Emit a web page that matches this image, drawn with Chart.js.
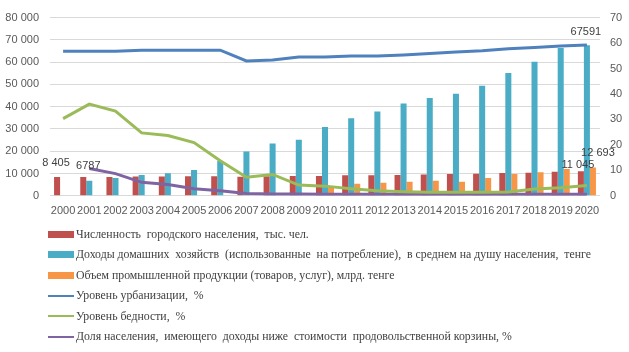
<!DOCTYPE html>
<html>
<head>
<meta charset="utf-8">
<script src="https://cdn.jsdelivr.net/npm/chart.js@4.4.1/dist/chart.umd.min.js"></script>
<style>
  body { margin: 0; background: #fff; width: 629px; height: 352px; overflow: hidden; position: relative; }
  #chart { position: absolute; left: 0; top: 0; }
  #legend { position: absolute; left: 48px; top: 224px; margin: 0; padding: 0; list-style: none;
    font-family: "Liberation Serif", "Times New Roman", "DejaVu Serif", serif; font-size: 11.8px; color: #404040; }
  #legend li { height: 20.5px; display: flex; align-items: center; white-space: pre; }
  #legend .mark { width: 26px; margin-right: 2px; flex: none; }
</style>
</head>
<body>
<canvas id="chart" width="629" height="234"></canvas>
<ul id="legend"></ul>
<script>
const years = ['2000', '2001', '2002', '2003', '2004', '2005', '2006', '2007', '2008', '2009', '2010',
  '2011', '2012', '2013', '2014', '2015', '2016', '2017', '2018', '2019', '2020'];

// left axis (bars)
const urbanPopulation = [8405, 8390, 8410, 8650, 8700, 8750, 8800, 8500, 8800, 8850, 8900,
  9200, 9250, 9350, 9600, 9800, 9900, 10200, 10400, 10800, 11045];
const householdIncome = [null, 6787, 8040, 9360, 10110, 11560, 15600, 19910, 23430, 25190, 30900,
  34860, 37800, 41450, 43960, 45850, 49360, 55080, 60220, 66400, 67591];
const industrialOutput = [null, null, null, null, null, null, null, null, null, null, 3650,
  5400, 5850, 6290, 6730, 6290, 8040, 9800, 10550, 12000, 12693];

// right axis (lines, %)
const urbanization = [56.8, 56.8, 56.8, 57.2, 57.2, 57.2, 57.2, 53.0, 53.3, 54.5, 54.5,
  54.9, 54.9, 55.3, 55.9, 56.5, 57.0, 57.8, 58.3, 58.8, 59.2];
const poverty = [30.3, 36.0, 33.3, 24.7, 23.7, 20.9, 13.8, 7.3, 8.4, 4.2, 3.8,
  2.8, 2.0, 1.6, 1.4, 1.4, 1.4, 1.5, 2.7, 3.2, 4.0];
const belowFoodBasket = [null, 10.7, 8.7, 5.3, 4.4, 2.8, 2.0, 0.9, 0.7, 0.7, 0.6,
  0.6, 0.6, 0.6, 0.6, 0.6, 0.6, 0.6, 0.6, 0.6, 0.6];

const leftTicks = [0, 10000, 20000, 30000, 40000, 50000, 60000, 70000, 80000];
const rightTicks = [0, 10, 20, 30, 40, 50, 60, 70];

function spaced(v) {
  return String(v).replace(/\B(?=(\d{3})+(?!\d))/g, ' ');
}

// which values get a label above the bar (the picture mixes spaced and plain numbers)
const valueLabels = [
  { dataset: 0, index: 0, spaced: true, dx: -1, dy: -14 },
  { dataset: 1, index: 1, spaced: false, dx: -1, dy: -15 },
  { dataset: 1, index: 20, spaced: false, dx: -1, dy: -13 },
  { dataset: 0, index: 20, spaced: true, dx: -3, dy: -6 },
  { dataset: 2, index: 20, spaced: true, dx: 5, dy: -15 }
];

const labelPlugin = {
  id: 'valueLabels',
  afterDatasetsDraw(chart) {
    const ctx = chart.ctx;
    ctx.save();
    ctx.font = '11px "Liberation Sans"';
    ctx.fillStyle = '#404040';
    ctx.textAlign = 'center';
    ctx.textBaseline = 'middle';
    valueLabels.forEach(l => {
      const el = chart.getDatasetMeta(l.dataset).data[l.index];
      const v = chart.data.datasets[l.dataset].data[l.index];
      const text = l.spaced ? spaced(v) : String(v);
      ctx.fillText(text, el.x + l.dx, el.y + l.dy);
    });
    ctx.restore();
  }
};

const tickFont = { family: 'Liberation Sans', size: 11 };

const chart = new Chart(document.getElementById('chart').getContext('2d'), {
  data: {
    labels: years,
    datasets: [
      { type: 'bar', label: 'Численность  городского населения,  тыс. чел.', data: urbanPopulation,
        backgroundColor: '#C0504D', yAxisID: 'y', order: 1, categoryPercentage: 0.69, barPercentage: 1 },
      { type: 'bar', label: 'Доходы домашних  хозяйств  (использованные  на потребление),  в среднем на душу населения,  тенге', data: householdIncome,
        backgroundColor: '#4BACC6', yAxisID: 'y', order: 1, categoryPercentage: 0.69, barPercentage: 1 },
      { type: 'bar', label: 'Объем промышленной продукции (товаров, услуг), млрд. тенге', data: industrialOutput,
        backgroundColor: '#F79646', yAxisID: 'y', order: 1, categoryPercentage: 0.69, barPercentage: 1 },
      { type: 'line', label: 'Уровень урбанизации,  %', data: urbanization,
        borderColor: '#4F81BD', backgroundColor: '#4F81BD', borderWidth: 3, pointRadius: 0, yAxisID: 'y1', order: 0 },
      { type: 'line', label: 'Уровень бедности,  %', data: poverty,
        borderColor: '#9BBB59', backgroundColor: '#9BBB59', borderWidth: 3, pointRadius: 0, yAxisID: 'y1', order: 0 },
      { type: 'line', label: 'Доля населения,  имеющего  доходы ниже  стоимости  продовольственной корзины, %', data: belowFoodBasket,
        borderColor: '#8064A2', backgroundColor: '#8064A2', borderWidth: 3, pointRadius: 0, yAxisID: 'y1', order: 0 }
    ]
  },
  options: {
    responsive: false,
    animation: false,
    layout: { padding: { top: 8, bottom: 7, left: 0, right: 0 } },
    plugins: { legend: { display: false }, tooltip: { enabled: false } },
    scales: {
      x: {
        grid: { display: false, drawTicks: false },
        border: { display: false },
        ticks: { autoSkip: false, maxRotation: 0, color: '#595959', font: tickFont, padding: 9 }
      },
      y: {
        position: 'left', min: 0, max: 80000,
        afterBuildTicks: s => { s.ticks = leftTicks.map(v => ({ value: v })); },
        ticks: { color: '#595959', font: tickFont, padding: 11, callback: v => spaced(v) },
        grid: { color: '#D9D9D9', drawTicks: false },
        border: { display: false },
        afterFit: s => { s.width = 50; }
      },
      y1: {
        position: 'right', min: 0, max: 70,
        afterBuildTicks: s => { s.ticks = rightTicks.map(v => ({ value: v })); },
        ticks: { color: '#595959', font: tickFont, padding: 10 },
        grid: { display: false, drawTicks: false },
        border: { display: false },
        afterFit: s => { s.width = 29; }
      }
    }
  },
  plugins: [labelPlugin]
});

// legend built from the datasets, one entry per row like the original
const legend = document.getElementById('legend');
chart.data.datasets.forEach(ds => {
  const li = document.createElement('li');
  const mark = document.createElement('span');
  mark.className = 'mark';
  mark.style.background = ds.backgroundColor;
  mark.style.height = ds.type === 'bar' ? '7px' : '2px';
  const text = document.createElement('span');
  text.textContent = ds.label;
  li.appendChild(mark);
  li.appendChild(text);
  legend.appendChild(li);
});
</script>
</body>
</html>
